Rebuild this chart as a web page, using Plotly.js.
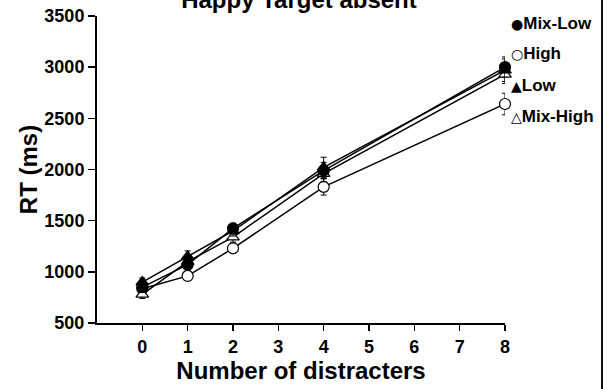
<!DOCTYPE html>
<html>
<head>
<meta charset="utf-8">
<script src="https://cdn.plot.ly/plotly-3.0.1.min.js"></script>
<style>html,body{margin:0;padding:0;background:#fff;}#chart{width:610px;height:389px;}</style>
</head>
<body>
<div id="chart"></div>
<script>
var distracters = [0, 1, 2, 4, 8];
var xTicks = [0, 1, 2, 3, 4, 5, 6, 7, 8];
var yTicks = [500, 1000, 1500, 2000, 2500, 3000, 3500];

var mixLow   = [850, 1070, 1425, 1990, 3000];
var mixLowErr = [40, 50, 50, 80, 100];
var high     = [835, 960, 1230, 1830, 2640];
var highErr  = [40, 45, 50, 80, 105];
var low      = [900, 1150, 1400, 2020, 2970];
var lowErr   = [40, 55, 50, 100, 110];
var mixHigh  = [780, 1100, 1340, 1960, 2930];
var mixHighErr = [40, 50, 50, 80, 90];

var seriesNames = ["Mix-Low", "High", "Low", "Mix-High"];
var seriesGlyphs = ["●", "○", "▲", "△"];

var FONT = "Liberation Sans, Arial, Helvetica, sans-serif";

function trace(name, y, err, symbol, fill) {
  return {
    x: distracters, y: y, name: name, type: "scatter", mode: "lines+markers",
    cliponaxis: false, showlegend: false,
    line: {color: "#000", width: 1.5},
    marker: {symbol: symbol, size: 11, color: fill, line: {color: "#000", width: 1.2}},
    error_y: {type: "data", array: err, visible: true, color: "#000", thickness: 1, width: 3}
  };
}

var data = [
  trace(seriesNames[1], high, highErr, "circle", "#fff"),
  trace(seriesNames[3], mixHigh, mixHighErr, "triangle-up", "#fff"),
  trace(seriesNames[0], mixLow, mixLowErr, "circle", "#000"),
  trace(seriesNames[2], low, lowErr, "triangle-up", "#000")
];

var legendY = [23, 53, 85, 116];
var annotations = seriesNames.map(function (n, i) {
  return {
    xref: "paper", yref: "paper", x: (509 - 97) / 408, y: (323 - legendY[i]) / 307,
    xanchor: "left", yanchor: "middle", showarrow: false,
    text: '<span style="font-family:DejaVu Sans;font-size:14px">' + seriesGlyphs[i] + '</span><b>' + n + '</b>',
    font: {family: FONT, size: 17, color: "#000"}
  };
});

var layout = {
  width: 610, height: 389,
  margin: {l: 97, r: 105, t: 16, b: 66},
  paper_bgcolor: "#fff", plot_bgcolor: "#fff",
  title: {text: "<b>Happy Target absent</b>", x: 0.495, xref: "paper", y: 1, yref: "container", yanchor: "middle",
          font: {family: FONT, size: 24, color: "#000"}},
  xaxis: {
    range: [-1, 8], tickvals: xTicks, ticktext: xTicks.map(String),
    showgrid: false, zeroline: false, showline: true, linecolor: "#000", linewidth: 2,
    ticks: "outside", ticklen: 6, tickwidth: 1.5, tickcolor: "#000",
    tickfont: {family: FONT, size: 18, color: "#000", weight: "bold"},
    title: {text: "<b>Number of distracters</b>", font: {family: FONT, size: 24, color: "#000"}, standoff: 7}
  },
  yaxis: {
    range: [500, 3500], tickvals: yTicks, ticktext: yTicks.map(String),
    showgrid: false, zeroline: false, showline: true, linecolor: "#000", linewidth: 2,
    ticks: "outside", ticklen: 7, tickwidth: 1.5, tickcolor: "#000",
    tickfont: {family: FONT, size: 18, color: "#000", weight: "bold"},
    title: {text: "<b>RT (ms)</b>", font: {family: FONT, size: 24, color: "#000"}, standoff: 0}
  },
  annotations: annotations,
  shapes: [{type: "line", xref: "paper", yref: "paper", x0: (602 - 97) / 408, x1: (602 - 97) / 408,
            y0: -0.3, y1: 1.1, line: {color: "#111", width: 2}}],
  showlegend: false
};

Plotly.newPlot("chart", data, layout, {displayModeBar: false, staticPlot: true});
</script>
</body>
</html>
